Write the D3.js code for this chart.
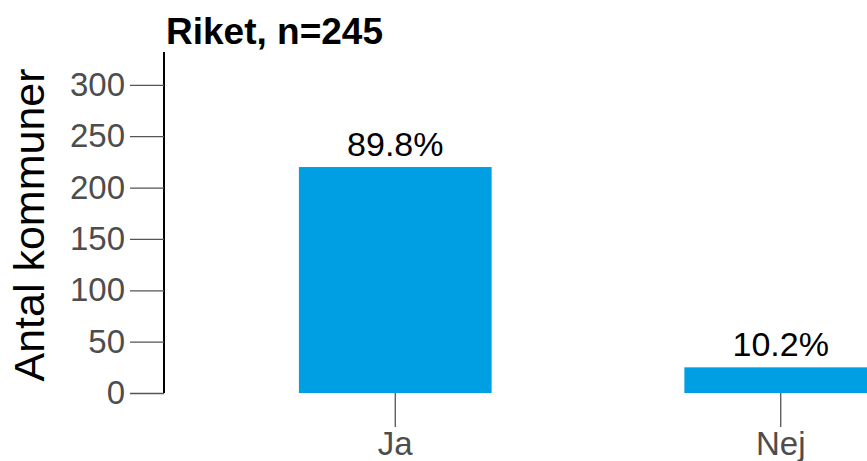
<!DOCTYPE html>
<html>
<head>
<meta charset="utf-8">
<script src="https://cdn.jsdelivr.net/npm/d3@7"></script>
<style>
  html, body { margin: 0; padding: 0; background: #ffffff; }
  svg { display: block; font-family: "Liberation Sans", Arial, Helvetica, sans-serif; }
</style>
</head>
<body>
<svg id="chart" width="867" height="461"></svg>
<script>
// Survey answers for all municipalities
const categories = ["Ja", "Nej"];
const counts = [220, 25];
const total = 245;
const yTicks = [0, 50, 100, 150, 200, 250, 300];
const titleText = "Riket, n=" + total;
const yLabel = "Antal kommuner";

const svg = d3.select("#chart");
const axisX = 164, baseY = 393, topY = 52;

const x = d3.scaleBand()
  .domain(categories)
  .range([axisX, 1012])
  .paddingInner(0.5)
  .paddingOuter(0.35);

const y = d3.scaleLinear()
  .domain([0, 332])
  .range([baseY, topY]);

// Bars
svg.append("g")
  .selectAll("rect")
  .data(categories)
  .join("rect")
  .attr("x", d => x(d))
  .attr("width", x.bandwidth())
  .attr("y", (d, i) => y(counts[i]))
  .attr("height", (d, i) => y(0) - y(counts[i]))
  .attr("fill", "#009FE3");

// Percentage labels above bars
const pct = d3.format(".1%");
svg.append("g")
  .selectAll("text")
  .data(categories)
  .join("text")
  .attr("x", d => x(d) + x.bandwidth() / 2)
  .attr("y", (d, i) => y(counts[i]) - 11)
  .attr("text-anchor", "middle")
  .attr("font-size", 34)
  .attr("fill", "#000")
  .text((d, i) => pct(counts[i] / total));

// Y axis
const yAxis = svg.append("g")
  .attr("transform", `translate(${axisX},0)`)
  .call(d3.axisLeft(y).tickValues(yTicks).tickSize(34).tickPadding(5).tickSizeOuter(0));
yAxis.select(".domain").attr("stroke", "#000").attr("stroke-width", 2)
  .attr("d", `M0,${topY}V${baseY}`);
yAxis.selectAll(".tick line").attr("stroke", "#555").attr("stroke-width", 1.3);
yAxis.selectAll(".tick text").attr("fill", "#4d4d4d").attr("font-size", 33)
  .attr("font-family", "Liberation Sans, Arial, sans-serif");

// X axis (ticks only)
const xAxis = svg.append("g")
  .attr("transform", `translate(0,${baseY})`)
  .call(d3.axisBottom(x).tickSize(34).tickPadding(5).tickSizeOuter(0));
xAxis.select(".domain").remove();
xAxis.selectAll(".tick line").attr("stroke", "#555").attr("stroke-width", 1.3);
xAxis.selectAll(".tick text").attr("fill", "#4d4d4d").attr("font-size", 33)
  .attr("font-family", "Liberation Sans, Arial, sans-serif");

// Title
svg.append("text")
  .attr("x", 166)
  .attr("y", 44)
  .attr("font-size", 37)
  .attr("font-weight", "bold")
  .attr("fill", "#000")
  .text(titleText);

// Y axis title
svg.append("text")
  .attr("transform", "translate(44,225) rotate(-90)")
  .attr("text-anchor", "middle")
  .attr("font-size", 43)
  .attr("fill", "#000")
  .text(yLabel);
</script>
</body>
</html>
